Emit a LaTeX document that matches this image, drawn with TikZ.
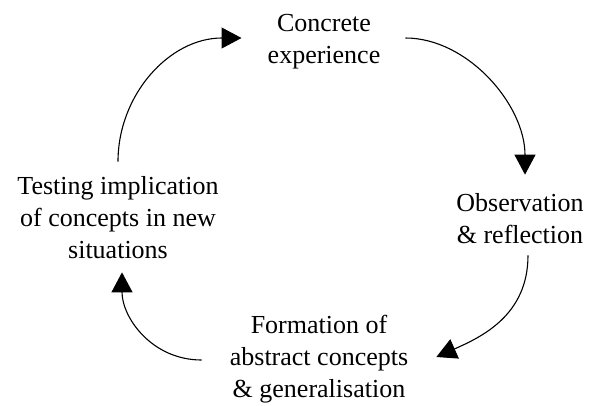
\documentclass[tikz,border=0pt]{standalone}
\usepackage{fontspec}
\setmainfont{Liberation Serif}
\usetikzlibrary{arrows.meta,calc}
\begin{document}
\begin{tikzpicture}[x=1pt,y=-1pt,
  lbl/.style={align=center,inner sep=0pt,font=\fontsize{26}{32}\selectfont},
  cyc/.style={line width=1.1pt,-{Triangle[length=20pt,width=21pt]}}]
\useasboundingbox[fill=white] (0,0) rectangle (594,405);
\node[lbl] (conc) at (324,42) {Concrete\\experience};
\node[lbl] (obs)  at (520,219) {Observation\\\& reflection};
\node[lbl] (form) at (319,359) {Formation of\\abstract concepts\\\& generalisation};
\node[lbl] (test) at (118,218) {Testing implication\\of concepts in new\\situations};
\draw[cyc] ($(test.north)+(0,-15)$) .. controls +(0,-67) and +(-72,0) .. ($(conc.west)+(-26,-4)$);
\draw[cyc] ($(conc.east)+(25,-4)$) .. controls +(62,0) and +(0,-70) .. ($(obs.north)+(5,-19)$);
\draw[cyc] ($(obs.south)+(8,11)$) .. controls +(0,60) and +(45,-20) .. ($(form.east)+(28,-2)$);
\draw[cyc] ($(form.west)+(-28,1)$) .. controls +(-50,0) and +(0,45) .. ($(test.south)+(4,13)$);
\end{tikzpicture}
\end{document}
